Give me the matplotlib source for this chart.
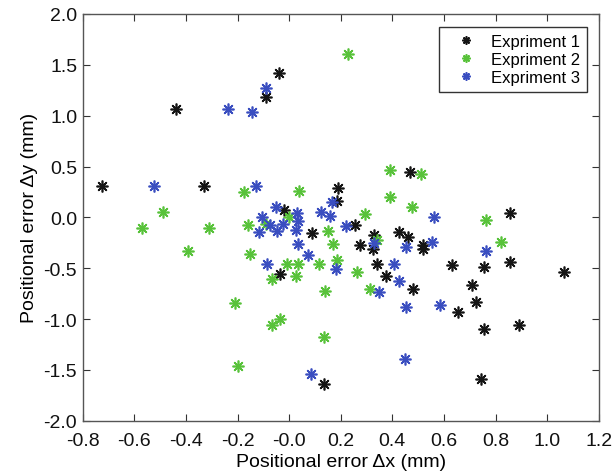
import matplotlib
matplotlib.use('Agg')
import matplotlib.pyplot as plt

plt.rcParams['font.family'] = ['Liberation Sans', 'DejaVu Sans']

# Expriment 1 (black)
exp1_x = [-0.44, -0.04, -0.09, -0.725, -0.33, -0.02, 0.19, 0.185, 0.47, 0.855,
          0.09, -0.035, 0.135, 0.255, 0.33, 0.325, 0.275, 0.425, 0.46, 0.52,
          0.52, 0.855, 0.755, 0.63, 1.065, 0.71, 0.725, 0.655, 0.755, 0.89,
          0.745, 0.48, 0.375, 0.34]
exp1_y = [1.07, 1.42, 1.18, 0.31, 0.31, 0.07, 0.29, 0.16, 0.45, 0.045,
          -0.15, -0.56, -1.635, -0.075, -0.17, -0.31, -0.27, -0.14, -0.195, -0.27,
          -0.31, -0.435, -0.49, -0.465, -0.535, -0.665, -0.83, -0.93, -1.095, -1.06,
          -1.59, -0.70, -0.58, -0.46]

# Expriment 2 (green)
exp2_x = [0.23, 0.39, 0.51, 0.39, 0.475, 0.295, 0.765, -0.175, 0.04, -0.49,
          0.0, -0.57, -0.31, -0.39, -0.16, -0.15, -0.21, -0.20, -0.065, -0.035,
          -0.065, -0.01, 0.035, 0.025, 0.115, 0.14, 0.135, 0.15, 0.17, 0.185,
          -0.09, 0.34, 0.82, 0.265, 0.315]
exp2_y = [1.61, 0.465, 0.425, 0.205, 0.10, 0.03, -0.03, 0.25, 0.26, 0.05,
          0.005, -0.10, -0.10, -0.33, -0.075, -0.365, -0.845, -1.46, -1.055, -1.0,
          -0.61, -0.46, -0.46, -0.58, -0.46, -0.72, -1.175, -0.13, -0.265, -0.42,
          -0.065, -0.22, -0.24, -0.54, -0.705]

# Expriment 3 (blue)
exp3_x = [-0.235, -0.145, -0.09, -0.525, -0.13, -0.05, -0.105, 0.03, 0.125, 0.165,
          0.16, 0.56, -0.115, -0.075, -0.045, -0.025, 0.035, 0.025, 0.035, -0.085,
          0.075, 0.18, 0.085, 0.22, 0.33, 0.455, 0.555, 0.765, 0.45, 0.455,
          0.585, 0.425, 0.405, 0.35]
exp3_y = [1.07, 1.035, 1.27, 0.31, 0.31, 0.10, 0.0, 0.04, 0.05, 0.155,
          0.01, 0.0, -0.14, -0.075, -0.13, -0.065, -0.04, -0.125, -0.26, -0.46,
          -0.375, -0.505, -1.54, -0.09, -0.255, -0.29, -0.24, -0.335, -1.39, -0.885,
          -0.86, -0.625, -0.46, -0.73]

x_ticks = [-0.8, -0.6, -0.4, -0.2, 0.0, 0.2, 0.4, 0.6, 0.8, 1.0, 1.2]
x_labels = ['-0.8', '-0.6', '-0.4', '-0.2', '-0.0', '0.2', '0.4', '0.6', '0.8', '1.0', '1.2']
y_ticks = [-2.0, -1.5, -1.0, -0.5, 0.0, 0.5, 1.0, 1.5, 2.0]
y_labels = ['-2.0', '-1.5', '-1.0', '-0.5', '0.0', '0.5', '1.0', '1.5', '2.0']

fig = plt.figure(figsize=(6.14, 4.77), dpi=100)
ax = fig.add_axes([0.1347, 0.1159, 0.8404, 0.8527])

star = (8, 2, 0)
ax.plot(exp1_x, exp1_y, linestyle='none', marker=star, markersize=8.5, markeredgewidth=1.2,
        color='#151515', label='Expriment 1')
ax.plot(exp2_x, exp2_y, linestyle='none', marker=star, markersize=8.5, markeredgewidth=1.2,
        color='#58c23a', label='Expriment 2')
ax.plot(exp3_x, exp3_y, linestyle='none', marker=star, markersize=8.5, markeredgewidth=1.2,
        color='#3a4ec0', label='Expriment 3')

ax.set_xlim(-0.8, 1.2)
ax.set_ylim(-2.0, 2.0)
ax.set_xticks(x_ticks)
ax.set_xticklabels(x_labels)
ax.set_yticks(y_ticks)
ax.set_yticklabels(y_labels)
ax.tick_params(direction='in', top=True, right=True, length=5, width=0.8,
               labelsize=14, colors='#333333', labelcolor='#111111', pad=4)
ax.tick_params(axis='x', pad=8)
for s in ax.spines.values():
    s.set_color('#555555')
    s.set_linewidth(1.0)

ax.set_xlabel('Positional error Δx (mm)', fontsize=14, labelpad=3)
ax.set_ylabel('Positional error Δy (mm)', fontsize=14, labelpad=4)

leg = ax.legend(loc='upper right', bbox_to_anchor=(0.977, 0.968), borderaxespad=0,
                fontsize=12, fancybox=False, framealpha=1, edgecolor='#333333',
                handlelength=2.4, handletextpad=0.3, borderpad=0.4, labelspacing=0.2,
                markerscale=0.7)
leg.get_frame().set_linewidth(1.0)

plt.savefig('out.png', dpi=100)
